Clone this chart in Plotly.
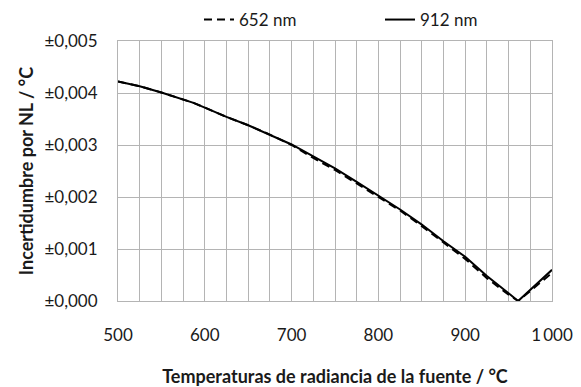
import plotly.graph_objects as go

temps = [500, 525, 550, 587, 600, 625, 650, 675, 700, 725, 750, 775, 800,
         825, 850, 875, 900, 925, 950, 961, 1000]
u_912 = [0.00422, 0.00413, 0.00401, 0.00381, 0.00372, 0.00354, 0.00338, 0.00320,
         0.00301, 0.00278, 0.00255, 0.00229, 0.00202, 0.00176, 0.00147, 0.00115,
         0.00085, 0.00048, 0.00015, 0.0, 0.00060]
u_652 = [0.00422, 0.00413, 0.00401, 0.00381, 0.00372, 0.00354, 0.00338, 0.00320,
         0.00300, 0.00275, 0.00252, 0.00226, 0.00200, 0.00174, 0.00144, 0.00112,
         0.00081, 0.00044, 0.00012, 0.0, 0.00054]

x_ticks = [500, 600, 700, 800, 900, 1000]
x_labels = ["500", "600", "700", "800", "900", "1\u2009000"]
y_ticks = [0, 0.001, 0.002, 0.003, 0.004, 0.005]
y_labels = ["±0,000", "±0,001", "±0,002", "±0,003", "±0,004", "±0,005"]

FONT = "Lato, 'Noto Sans', sans-serif"
GRID = "#b4b4b4"

fig = go.Figure()
fig.add_trace(go.Scatter(x=temps, y=u_652, mode="lines", name="652 nm",
                         line=dict(color="black", width=2, dash="8px,5px")))
fig.add_trace(go.Scatter(x=temps, y=u_912, mode="lines", name="912 nm",
                         line=dict(color="black", width=2)))

fig.update_layout(
    width=581, height=387,
    margin=dict(l=118, r=29, t=41, b=86, autoexpand=False),
    paper_bgcolor="white", plot_bgcolor="white",
    font=dict(family=FONT, size=17, color="#1a1a1a"),
    legend=dict(orientation="h", xref="container", x=0.3425, xanchor="left",
                yref="container", y=1 - 20 / 387, yanchor="middle",
                entrywidth=136, entrywidthmode="pixels",
                font=dict(size=17), bgcolor="rgba(0,0,0,0)"),
    xaxis=dict(range=[500, 1000], tickvals=x_ticks, ticktext=x_labels,
               showgrid=True, gridcolor=GRID, gridwidth=1,
               minor=dict(dtick=25, tick0=500, showgrid=True, gridcolor=GRID, gridwidth=1),
               showline=True, linecolor=GRID, mirror=True, zeroline=False,
               ticks="", ticklabelstandoff=19,
               title=dict(text="<b>Temperaturas de radiancia de la fuente / °C</b>",
                          font=dict(size=18), standoff=66)),
    yaxis=dict(range=[0, 0.005], tickvals=y_ticks, ticktext=y_labels,
               showgrid=True, gridcolor=GRID, gridwidth=1,
               showline=True, linecolor=GRID, mirror=True, zeroline=False,
               ticks="", ticklabelstandoff=16,
               title=dict(text="<b>Incertidumbre por NL / °C</b>",
                          font=dict(size=18), standoff=6)),
)

fig.write_html("out.html")
